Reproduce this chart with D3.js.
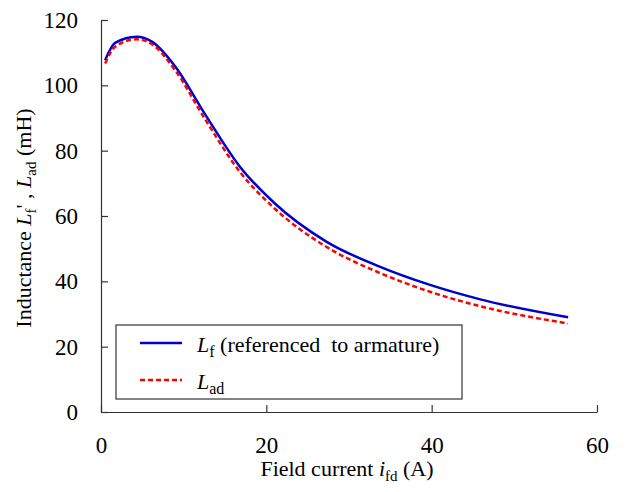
<!DOCTYPE html>
<html>
<head>
<meta charset="utf-8">
<script src="https://cdn.jsdelivr.net/npm/d3@7"></script>
</head>
<body style="margin:0">
<svg id="chart" width="638" height="492"></svg>
<script>
// field current (A)
var fieldCurrent = [0.5, 1.7, 4.3, 6.2, 9, 12.5, 16.8, 21, 27.3, 33.7, 39.8, 46, 56.5];
// Lf referenced to armature (mH)
var lf = [107.7, 113, 114.9, 113.3, 105.7, 91.5, 75.1, 63.9, 52.1, 44.5, 38.9, 34.4, 29.0];
// Lad (mH)
var lad = [106.7, 111.8, 114.1, 112.5, 104.5, 90, 73.5, 62.3, 50.5, 42.6, 36.8, 32.3, 27.1];
var xTicks = [0, 20, 40, 60];
var yTicks = [0, 20, 40, 60, 80, 100, 120];

var FONT = "Liberation Serif";

var svg = d3.select("#chart");
var margin = {top: 20, right: 41, bottom: 80, left: 101},
    width = 638 - margin.left - margin.right,
    height = 492 - margin.top - margin.bottom;

var x = d3.scaleLinear().domain([0, 60]).range([0, width]);
var y = d3.scaleLinear().domain([0, 120]).range([height, 0]);

var g = svg.append("g")
    .attr("transform", "translate(" + margin.left + "," + margin.top + ")");

// axes, ticks pointing inward
var xAxis = g.append("g")
    .attr("transform", "translate(0," + height + ")")
    .call(d3.axisBottom(x).tickValues(xTicks).tickSize(-7).tickPadding(33).tickSizeOuter(0));
var yAxis = g.append("g")
    .call(d3.axisLeft(y).tickValues(yTicks).tickSize(-7).tickPadding(23).tickSizeOuter(0));

[xAxis, yAxis].forEach(function (a) {
    a.selectAll("path, line").attr("stroke", "#333").attr("stroke-width", 1.2);
    a.selectAll("text").attr("fill", "#000").attr("font-size", 23);
});
xAxis.selectAll("text").attr("dy", "0.35em");

var line = d3.line()
    .x(function (d) { return x(d[0]); })
    .y(function (d) { return y(d[1]); })
    .curve(d3.curveMonotoneX);

g.append("path")
    .datum(d3.zip(fieldCurrent, lf))
    .attr("fill", "none")
    .attr("stroke", "#0000cc")
    .attr("stroke-width", 2.5)
    .attr("d", line);

g.append("path")
    .datum(d3.zip(fieldCurrent, lad))
    .attr("fill", "none")
    .attr("stroke", "#ff0000")
    .attr("stroke-width", 2.5)
    .attr("stroke-dasharray", "5,3")
    .attr("d", line);

// axis titles
var xt = svg.append("text")
    .attr("x", 347).attr("y", 476)
    .attr("text-anchor", "middle")
    .attr("font-size", 22);
xt.append("tspan").text("Field current ");
xt.append("tspan").attr("font-style", "italic").text("i");
xt.append("tspan").attr("dy", 5).attr("font-size", 15).text("fd");
xt.append("tspan").attr("dy", -5).text(" (A)");

var yt = svg.append("text")
    .attr("transform", "translate(31,218) rotate(-90)")
    .attr("text-anchor", "middle")
    .attr("font-size", 22);
yt.append("tspan").text("Inductance ");
yt.append("tspan").attr("font-style", "italic").text("L");
yt.append("tspan").attr("dy", 5).attr("font-size", 15).text("f");
yt.append("tspan").attr("dy", -5).text("' , ");
yt.append("tspan").attr("font-style", "italic").text("L");
yt.append("tspan").attr("dy", 5).attr("font-size", 15).text("ad");
yt.append("tspan").attr("dy", -5).text(" (mH)");

// legend
var leg = svg.append("g");
leg.append("rect")
    .attr("x", 116).attr("y", 325).attr("width", 346).attr("height", 74)
    .attr("fill", "#fff").attr("stroke", "#333").attr("stroke-width", 1.2);

var legendItems = [
    {color: "#0000cc", dash: null, sub: "f", rest: " (referenced\u00a0 to armature)"},
    {color: "#ff0000", dash: "5,3", sub: "ad", rest: ""}
];
legendItems.forEach(function (d, i) {
    var yy = 343 + i * 37;
    leg.append("line")
        .attr("x1", 140).attr("x2", 182).attr("y1", yy).attr("y2", yy)
        .attr("stroke", d.color).attr("stroke-width", 2.5)
        .attr("stroke-dasharray", d.dash);
    var t = leg.append("text").attr("x", 197).attr("y", yy + 9).attr("font-size", 22);
    t.append("tspan").attr("font-style", "italic").text("L");
    t.append("tspan").attr("dy", 5).attr("font-size", 16).text(d.sub);
    t.append("tspan").attr("dy", -5).text(d.rest);
});

// serif face on every text node
svg.selectAll("g").attr("font-family", null);
svg.selectAll("text").attr("font-family", FONT);
</script>
</body>
</html>
